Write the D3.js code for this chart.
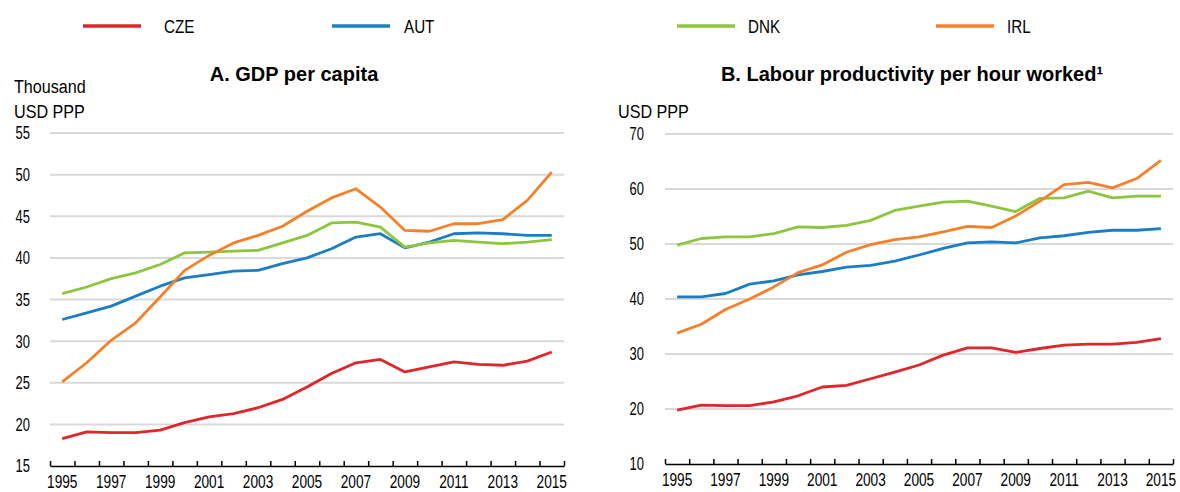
<html>

<head>
	<script src="https://d3js.org/d3.v7.min.js"></script>
	<style>
		body { margin: 0; background: #fff; }
		text { font-family: "Liberation Sans", Arial, sans-serif; fill: #000; }
	</style>
</head>

<body>

	<div id="chart"></div>

	<script type="text/javascript">

		var years = d3.range(1995, 2016);
		var yearLabels = [1995, 1997, 1999, 2001, 2003, 2005, 2007, 2009, 2011, 2013, 2015];

		var countries = ["CZE", "AUT", "DNK", "IRL"];
		var colors = ["#e0252b", "#1b7ec4", "#8cc63f", "#f4812a"];

		// panel A : GDP per capita, thousand USD PPP
		var gdpCZE = [18.3, 19.1, 19.0, 19.0, 19.3, 20.2, 20.9, 21.3, 22.0, 23.0, 24.5, 26.1, 27.4, 27.8, 26.3, 26.9, 27.5, 27.2, 27.1, 27.6, 28.7];
		var gdpAUT = [32.6, 33.4, 34.2, 35.4, 36.6, 37.6, 38.0, 38.4, 38.5, 39.3, 40.0, 41.1, 42.5, 42.9, 41.2, 41.9, 42.9, 43.0, 42.9, 42.7, 42.7];
		var gdpDNK = [35.7, 36.5, 37.5, 38.2, 39.2, 40.6, 40.7, 40.8, 40.9, 41.8, 42.7, 44.2, 44.3, 43.7, 41.3, 41.8, 42.1, 41.9, 41.7, 41.9, 42.2];
		var gdpIRL = [25.1, 27.4, 30.1, 32.2, 35.3, 38.5, 40.3, 41.8, 42.7, 43.8, 45.6, 47.2, 48.3, 46.1, 43.3, 43.2, 44.1, 44.1, 44.6, 46.9, 50.3];

		// panel B : labour productivity per hour worked, USD PPP
		var prodCZE = [19.8, 20.7, 20.6, 20.6, 21.3, 22.4, 24.0, 24.3, 25.5, 26.7, 28.0, 29.8, 31.1, 31.1, 30.3, 31.0, 31.6, 31.8, 31.8, 32.1, 32.8];
		var prodAUT = [40.4, 40.4, 41.0, 42.7, 43.3, 44.4, 45.0, 45.8, 46.1, 46.9, 48.0, 49.2, 50.2, 50.4, 50.2, 51.1, 51.5, 52.1, 52.5, 52.5, 52.8];
		var prodDNK = [49.8, 51.0, 51.3, 51.3, 51.9, 53.1, 53.0, 53.4, 54.3, 56.1, 56.9, 57.6, 57.8, 56.9, 55.9, 58.3, 58.4, 59.6, 58.4, 58.7, 58.7];
		var prodIRL = [33.8, 35.4, 38.1, 40.0, 42.2, 44.8, 46.2, 48.5, 49.9, 50.8, 51.3, 52.2, 53.2, 53.0, 55.1, 57.8, 60.8, 61.2, 60.2, 61.9, 65.2];

		var ticksA = [15, 20, 25, 30, 35, 40, 45, 50, 55];
		var ticksB = [10, 20, 30, 40, 50, 60, 70];

		// the source font is a narrow one: squeeze text horizontally
		var squeeze = 0.72;

		var svg = d3.select('#chart')
			.append('svg')
				.attr('width', 1180)
				.attr('height', 492);

		function narrowText(parent, x, y, s, size, str) {
			return parent.append('text')
				.attr('transform', 'translate(' + x + ',' + y + ') scale(' + s + ',1)')
				.style('font-size', size + 'px')
				.text(str);
		}

		// legend
		var legendX = [83, 332, 677, 936];
		var legendTextX = [164, 404, 748, 1007];
		countries.forEach(function (c, i) {
			svg.append('line')
				.attr('x1', legendX[i]).attr('x2', legendX[i] + 58)
				.attr('y1', 26).attr('y2', 26)
				.attr('stroke', colors[i])
				.attr('stroke-width', 3.5);
			narrowText(svg, legendTextX[i], 33, 0.8, 19, c);
		});

		function panel(opt) {
			var x = d3.scaleBand().domain(years).range([opt.left, opt.right]);
			var xEdge = d3.scaleLinear().domain([0, years.length]).range([opt.left, opt.right]);
			var y = d3.scaleLinear().domain(opt.domain).range([opt.bottom, opt.top]);

			var g = svg.append('g');

			// gridlines
			g.selectAll('.grid')
				.data(opt.ticks.slice(1))
				.enter()
				.append('line')
					.attr('x1', opt.left)
					.attr('x2', opt.right)
					.attr('y1', function (d) { return y(d); })
					.attr('y2', function (d) { return y(d); })
					.attr('stroke', '#d9d9d9')
					.attr('stroke-width', 2);

			// y labels
			g.selectAll('.ylab')
				.data(opt.ticks)
				.enter()
				.append('text')
					.attr('transform', function (d) { return 'translate(' + opt.labelX + ',' + y(d) + ') scale(' + squeeze + ',1)'; })
					.attr('dy', '0.36em')
					.attr('text-anchor', 'end')
					.style('font-size', '18px')
					.text(function (d) { return d; });

			// x axis : ticks at band edges, labels at every other year
			var ax = g.append('g')
				.attr('transform', 'translate(0,' + opt.bottom + ')')
				.call(d3.axisBottom(xEdge).tickValues(d3.range(years.length + 1)).tickSize(-5).tickSizeOuter(0).tickFormat(''));
			ax.select('.domain').attr('stroke', '#000').attr('stroke-width', 1.5);
			ax.selectAll('.tick line').attr('stroke', '#000').attr('stroke-width', 1.5);

			var lab = g.append('g')
				.attr('transform', 'translate(0,' + opt.bottom + ')')
				.call(d3.axisBottom(x).tickValues(yearLabels).tickSize(0).tickPadding(9));
			lab.select('.domain').remove();
			lab.selectAll('text')
				.attr('transform', 'scale(' + squeeze + ',1)')
				.attr('fill', '#000')
				.style('font-size', '19px')
				.style('font-family', '"Liberation Sans", Arial, sans-serif');

			var line = d3.line()
				.x(function (d, i) { return x(years[i]) + x.bandwidth() / 2; })
				.y(function (d) { return y(d); });

			opt.series.forEach(function (s, i) {
				g.append('path')
					.datum(s)
					.attr('fill', 'none')
					.attr('stroke', colors[i])
					.attr('stroke-width', 2.8)
					.attr('stroke-linejoin', 'round')
					.attr('d', line);
			});

			g.append('text')
				.attr('x', opt.titleX)
				.attr('y', 81)
				.attr('text-anchor', 'middle')
				.style('font-size', '20px')
				.style('font-weight', 'bold')
				.text(opt.title);
		}

		panel({
			left: 50, right: 564, top: 133, bottom: 466,
			domain: [15, 55], ticks: ticksA, labelX: 30,
			series: [gdpCZE, gdpAUT, gdpDNK, gdpIRL],
			title: 'A. GDP per capita', titleX: 294
		});

		panel({
			left: 665, right: 1173, top: 134, bottom: 464,
			domain: [10, 70], ticks: ticksB, labelX: 644,
			series: [prodCZE, prodAUT, prodDNK, prodIRL],
			title: 'B. Labour productivity per hour worked\u00b9', titleX: 912
		});

		narrowText(svg, 14, 93, 0.85, 19, 'Thousand');
		narrowText(svg, 14, 118, 0.85, 19, 'USD PPP');
		narrowText(svg, 618, 118, 0.85, 19, 'USD PPP');

	</script>

</body>
</html>
